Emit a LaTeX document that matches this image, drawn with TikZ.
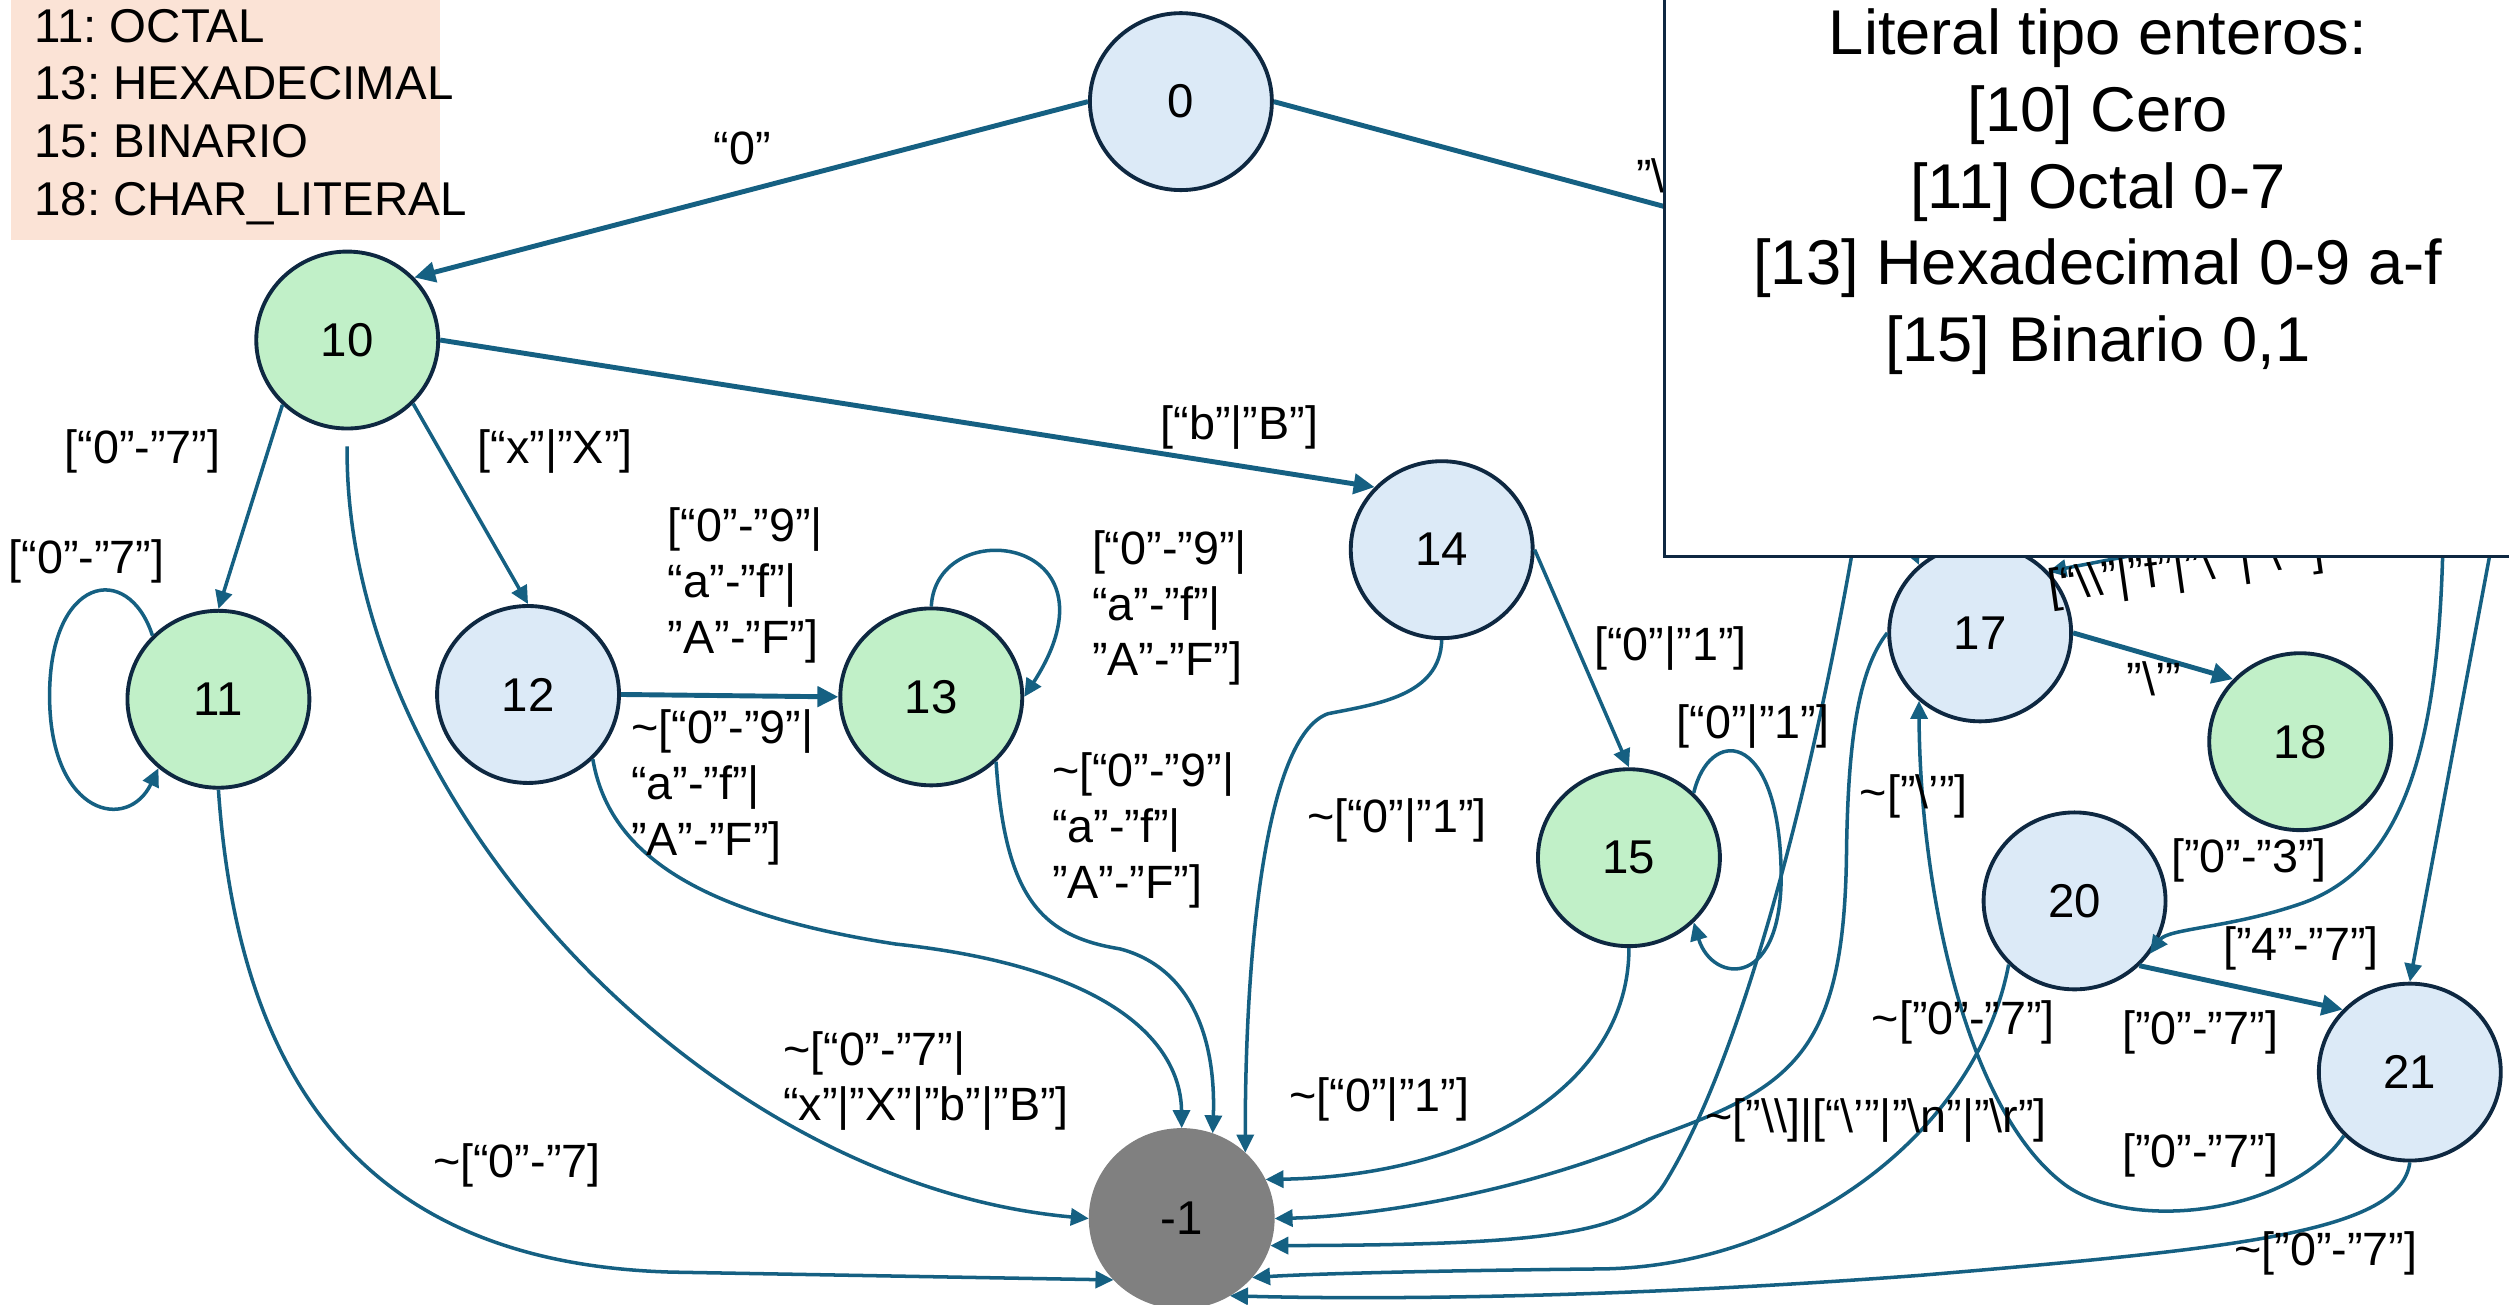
\documentclass[tikz,border=0pt]{standalone}
\usepackage{fontspec}
\setmainfont{Liberation Sans}
\usetikzlibrary{shapes.geometric, arrows.meta}
\frenchspacing
\definecolor{linea}{HTML}{156082}
\definecolor{borde}{HTML}{0E2841}
\definecolor{azul}{HTML}{DCEAF7}
\definecolor{verde}{HTML}{C1F0C8}
\definecolor{gris}{HTML}{808080}
\definecolor{durazno}{HTML}{FBE3D6}
\newcommand{\bsl}{\textbackslash}
\newcommand{\tild}{\textasciitilde}
\tikzstyle{estado} = [ellipse, draw=borde, fill=azul, line width=1.1pt, minimum width=1.82cm, minimum height=1.77cm, inner sep=0pt, font=\fontsize{13.5}{16}\selectfont]
\tikzstyle{estfinal} = [estado, fill=verde]
\tikzstyle{muerto} = [estado, draw=gris, fill=gris]
\tikzstyle{flecha} = [linea, line width=1pt, -{Triangle[length=1.8mm, width=1.7mm]}]
\tikzstyle{flechag} = [linea, line width=1.4pt, -{Triangle[length=2.1mm, width=2mm]}]
\tikzstyle{lin} = [linea, line width=1.4pt]
\tikzstyle{etiq} = [inner sep=0pt, align=left, font=\fontsize{13.3}{15.9}\selectfont]
\begin{document}
\begin{tikzpicture}[x=0.016cm, y=-0.016cm]
	\useasboundingbox (0,0) rectangle (1568,815);
	\fill [durazno] (7,-5) rectangle (275,150);
	\node (leyenda) at (21,5.3) [anchor=north west, inner sep=0pt, align=left, font=\fontsize{13.5}{16.4}\selectfont] {11: OCTAL\\13: HEXADECIMAL\\15: BINARIO\\18: CHAR\_LITERAL};

	\node (n0) at (738,63.5) [estado] {0};
	\node (n10) at (217,212.5) [estfinal] {10};
	\node (n11) at (136.5,437) [estfinal] {11};
	\node (n12) at (330,434) [estado] {12};
	\node (n13) at (582,435.5) [estfinal] {13};
	\node (n14) at (901,343.5) [estado] {14};
	\node (n15) at (1018,536) [estfinal] {15};
	\node (n17) at (1237.5,395.5) [estado] {17};
	\node (n18) at (1437.5,463.5) [estfinal] {18};
	\node (n20) at (1296.5,563) [estado] {20};
	\node (n21) at (1506,670) [estado] {21};
	\node (nm1) at (738.5,761.5) [muerto] {-1};

	\coordinate (c16) at (1200,172);
	\coordinate (c16a) at (1161,325);
	\coordinate (c16b) at (1185,320);
	\coordinate (c19a) at (1380,338);
	\coordinate (c19b) at (1527,320);
	\coordinate (c19c) at (1561,320);

	\draw [flechag] (n0.west) -- (n10.43);
	\draw [lin] (n0.east) -- (c16);
	\draw [flecha] (n10.225) -- (n11.north);
	\draw [flecha] (n10.316) -- (n12.north);
	\draw [flechag] (n10.east) -- (n14.137);
	\draw [flecha] (n11.136) .. controls (80,350) and (30,360) .. (31,437) .. controls (32,510) and (80,520) .. (n11.229);
	\draw [flechag] (n12.east) -- (n13.west);
	\draw [flecha] (n13.north) .. controls (585,320) and (705,335) .. (n13.east);
	\draw [flecha] (n14.east) -- (n15.north);
	\draw [flecha] (n15.45) .. controls (1068,455) and (1110,455) .. (1113,540) .. controls (1116,620) and (1070,615) .. (n15.315);
	\draw [flechag] (n17.east) -- (n18.137);
	\draw [flechag] (n20.315) -- (n21.137);
	\draw [flecha] (c16b) -- (n17.132);
	\draw [flecha] (c19a) -- (n17.42);
	\draw [flecha] (c19b) .. controls (1526,460) and (1505,540) .. (1440,564) .. controls (1395,580) and (1355,580) .. (n20.325);
	\draw [flecha] (c19c) -- (n21.north);
	\draw [flecha] (n21.224) .. controls (1430,760) and (1330,770) .. (1290,740) .. controls (1230,695) and (1200,560) .. (n17.228);

	\draw [flecha] (n11.south) .. controls (150,690) and (240,790) .. (420,795) -- (nm1.222);
	\draw [flecha, shorten <=0.16cm] (n10.south) .. controls (215,500) and (440,740) .. (nm1.west);
	\draw [flecha] (n12.315) .. controls (380,530) and (430,570) .. (560,590) .. controls (700,605) and (738,655) .. (nm1.north);
	\draw [flecha] (n13.315) .. controls (628,560) and (650,585) .. (700,593) .. controls (745,605) and (760,650) .. (nm1.70);
	\draw [flecha] (n14.south) .. controls (900,435) and (860,440) .. (830,446) .. controls (790,460) and (778,600) .. (nm1.46);
	\draw [flecha] (n15.south) .. controls (1018,680) and (920,735) .. (nm1.25);
	\draw [flecha] (n17.west) .. controls (1160,420) and (1155,470) .. (1154,530) .. controls (1153,660) and (1120,680) .. (1030,712) .. controls (950,745) and (860,760) .. (nm1.east);
	\draw [flecha] (c16a) .. controls (1135,480) and (1090,660) .. (1040,740) .. controls (1020,772) and (960,778) .. (nm1.343);
	\draw [flecha] (n20.224) .. controls (1235,710) and (1120,792) .. (1000,793) .. controls (900,794) and (820,796) .. (nm1.320);
	\draw [flecha] (n21.south) .. controls (1500,770) and (1400,780) .. (1200,797) .. controls (1000,812) and (850,812) .. (nm1.302);

	\node (l0x10) at (464,93) [etiq] {“0”};
	\node (l10x11) at (89,282) [etiq] {[“0”-”7”]};
	\node (l11) at (54,351) [etiq] {[“0”-”7”]};
	\node (l10x12) at (347,282) [etiq] {[“x”|”X”]};
	\node (l10x14) at (774.5,267) [etiq] {[“b”|”B”]};
	\node (l12x13) at (417,317) [etiq, anchor=north west] {[“0”-”9”|\\“a”-”f”|\\”A”-”F”]};
	\node (l13) at (682,331) [etiq, anchor=north west] {[“0”-”9”|\\“a”-”f”|\\”A”-”F”]};
	\node (l12xm) at (394,443) [etiq, anchor=north west] {\tild[“0”-”9”|\\“a”-”f”|\\”A”-”F”]};
	\node (l13xm) at (657,470) [etiq, anchor=north west] {\tild[“0”-”9”|\\“a”-”f”|\\”A”-”F”]};
	\node (l10xm) at (489,644) [etiq, anchor=north west] {\tild[“0”-”7”|\\“x”|”X”|”b”|”B”]};
	\node (l11xm) at (323,728) [etiq] {\tild[“0”-”7]};
	\node (l14x15) at (1044,405) [etiq] {[“0”|”1”]};
	\node (l15) at (1095.5,454) [etiq] {[“0”|”1”]};
	\node (l14xm) at (873,513) [etiq] {\tild[“0”|”1”]};
	\node (l15xm) at (862,687) [etiq] {\tild[“0”|”1”]};
	\node (l17x18) at (1346,424) [etiq] {”\bsl’”};
	\node (l17xm) at (1196,497.5) [etiq] {\tild[”\bsl’”]};
	\node (l16xm) at (1172.5,700) [etiq] {\tild[”\bsl\bsl]|[“\bsl’”|”\bsl n”|”\bsl r”]};
	\node (l20xm) at (1227,639) [etiq] {\tild[”0”-”7”]};
	\node (l20x21) at (1375,645) [etiq] {[”0”-”7”]};
	\node (l21x17) at (1375,722) [etiq] {[”0”-”7”]};
	\node (l19x21) at (1438,593) [etiq] {[”4”-”7”]};
	\node (l19x20) at (1405.5,538) [etiq] {[”0”-”3”]};
	\node (l21xm) at (1453.5,783.5) [etiq] {\tild[”0”-”7”]};
	\node (l0x16) at (1022,120) [etiq, anchor=base west] {”\bsl’”};
	\node (l19x17) at (1281,376.5) [etiq, anchor=base west, rotate=8] {[“\bsl\bsl”|”f”|”\bsl’”|”\bsl””]};

	\filldraw [fill=white, draw=borde, line width=0.9pt] (1040,348) rectangle (1600,-20);
	\node (tipos) at (1311,5.2) [anchor=north, inner sep=0pt, align=center, font=\fontsize{18}{21.8}\selectfont] {Literal tipo enteros:\\{}[10] Cero\\{}[11] Octal 0-7\\{}[13] Hexadecimal 0-9 a-f\\{}[15] Binario 0,1};
\end{tikzpicture}
\end{document}
